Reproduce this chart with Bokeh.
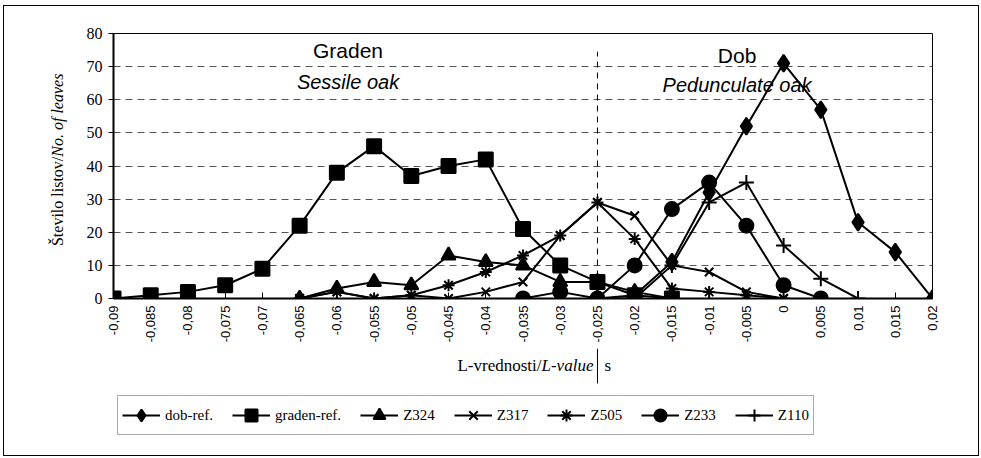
import math
from bokeh.plotting import figure
from bokeh.models import Range1d, FixedTicker, Label, Legend, LegendItem
from bokeh.layouts import column, row
from bokeh.embed import file_html
from bokeh.resources import INLINE

NaN = float("nan")

l_labels = ["-0,09", "-0,085", "-0,08", "-0,075", "-0,07", "-0,065", "-0,06",
            "-0,055", "-0,05", "-0,045", "-0,04", "-0,035", "-0,03", "-0,025",
            "-0,02", "-0,015", "-0,01", "-0,005", "0", "0,005", "0,01", "0,015", "0,02"]

dob_ref    = [NaN]*13 + [0, 1, 11, 32, 52, 71, 57, 23, 14, 0]
graden_ref = [0, 1, 2, 4, 9, 22, 38, 46, 37, 40, 42, 21, 10, 5, 1, 0] + [NaN]*7
z324       = [NaN]*5 + [0, 3, 5, 4, 13, 11, 10, 5, 5, 2, 0] + [NaN]*7
z317       = [NaN]*5 + [0, 2, 0, 1, 0, 2, 5, 19, 29, 25, 10, 8, 2, 0] + [NaN]*4
z505       = [NaN]*5 + [0, 2, 0, 1, 4, 8, 13, 19, 29, 18, 3, 2, 1, 0] + [NaN]*4
z233       = [NaN]*11 + [0, 2, 0, 10, 27, 35, 22, 4, 0] + [NaN]*3
z110       = [NaN]*13 + [0, 0, 10, 29, 35, 16, 6, 0] + [NaN]*2

series_names = ["dob-ref.", "graden-ref.", "Z324", "Z317", "Z505", "Z233", "Z110"]
series_values = [dob_ref, graden_ref, z324, z317, z505, z233, z110]
markers = ["diamond", "square", "triangle", "x", "asterisk", "circle", "cross"]
sizes = [17, 14, 14, 12, 12, 14, 15]

y_ticks = [0, 10, 20, 30, 40, 50, 60, 70, 80]

xs = list(range(len(l_labels)))

# ---- geometry (pixels) ----
W_TOTAL, H_TOTAL = 974, 449
W_LEFT = 75
MB_L, MB_R, MB_T, MB_B = 34, 46, 27, 50
FRAME_W = W_TOTAL - W_LEFT - MB_L - MB_R
H_TOP = 342
H_BOT = H_TOTAL - H_TOP
W_MAIN = W_TOTAL - W_LEFT

# ---- main chart ----
p = figure(width=W_MAIN, height=H_TOP, output_backend="svg", toolbar_location=None,
           x_range=Range1d(0, len(l_labels) - 1), y_range=Range1d(0, 80),
           min_border_left=MB_L, min_border_right=MB_R, min_border_top=MB_T,
           min_border_bottom=MB_B)
p.outline_line_color = "black"
p.outline_line_width = 1

p.xgrid.visible = False
p.ygrid.grid_line_color = "#555555"
p.ygrid.grid_line_dash = "7 5"
p.ygrid.grid_line_width = 1

p.yaxis.ticker = FixedTicker(ticks=y_ticks)
p.yaxis.minor_tick_line_color = None
p.yaxis.axis_line_width = 2
p.yaxis.major_tick_out = 5
p.yaxis.major_tick_in = 0
p.yaxis.major_label_text_font = "Liberation Serif"
p.yaxis.major_label_text_font_size = "16px"
p.yaxis.major_label_text_color = "black"
p.yaxis.major_label_standoff = 6

p.xaxis.ticker = FixedTicker(ticks=xs)
p.xaxis.major_label_overrides = {i: s for i, s in enumerate(l_labels)}
p.xaxis.major_label_orientation = math.pi / 2
p.xaxis.minor_tick_line_color = None
p.xaxis.axis_line_width = 2
p.xaxis.major_tick_in = 6
p.xaxis.major_tick_out = 0
p.xaxis.major_label_text_font = "Liberation Sans"
p.xaxis.major_label_text_font_size = "13px"
p.xaxis.major_label_text_color = "black"
p.xaxis.major_label_standoff = 7

div_i = l_labels.index("-0,025")
p.segment(x0=[div_i], y0=[0], x1=[div_i], y1=[74.5], line_color="black",
          line_width=1, line_dash="6 5")

for name, vals, mk, sz in zip(series_names, series_values, markers, sizes):
    p.line(xs, vals, line_color="black", line_width=2)
    p.scatter(xs, vals, marker=mk, size=sz, fill_color="black",
              line_color="black", line_width=2)

p.add_layout(Label(x=6.3, y=75, text="Graden", text_font="Liberation Sans",
                   text_font_size="21px", text_align="center", text_baseline="middle",
                   text_color="black"))
p.add_layout(Label(x=6.3, y=65.3, text="Sessile oak", text_font="Liberation Sans",
                   text_font_style="italic", text_font_size="20px",
                   text_align="center", text_baseline="middle", text_color="black"))
p.add_layout(Label(x=16.75, y=73.5, text="Dob", text_font="Liberation Sans",
                   text_font_size="21px", text_align="center", text_baseline="middle",
                   text_color="black"))
p.add_layout(Label(x=16.75, y=64.5, text="Pedunculate oak", text_font="Liberation Sans",
                   text_font_style="italic", text_font_size="20px",
                   text_align="center", text_baseline="middle", text_color="black"))

# ---- left strip with y axis title (mixed style) ----
pl = figure(width=W_LEFT, height=H_TOP, output_backend="svg", toolbar_location=None,
            x_range=Range1d(0, W_LEFT), y_range=Range1d(0, H_TOP),
            x_axis_type=None, y_axis_type=None, min_border=0)
pl.grid.visible = False
pl.outline_line_color = None
y_join = 183
pl.add_layout(Label(x=53, y=y_join, angle=math.pi / 2, text="Število listov/",
                    text_font="Liberation Serif", text_font_size="16px",
                    text_align="right", text_baseline="middle", text_color="black"))
pl.add_layout(Label(x=53, y=y_join, angle=math.pi / 2, text="No. of leaves",
                    text_font="Liberation Serif", text_font_style="italic",
                    text_font_size="16px", text_align="left", text_baseline="middle",
                    text_color="black"))

# ---- bottom strip with x axis title and legend ----
pb = figure(width=W_TOTAL, height=H_BOT, output_backend="svg", toolbar_location=None,
            x_range=Range1d(0, W_TOTAL), y_range=Range1d(0, H_BOT),
            x_axis_type=None, y_axis_type=None, min_border=0)
pb.grid.visible = False
pb.outline_line_color = None

x_div = W_LEFT + MB_L + div_i * FRAME_W / (len(l_labels) - 1)
pb.segment(x0=[x_div], y0=[H_BOT], x1=[x_div], y1=[H_BOT - 35], line_color="black", line_width=1)

lab_y = H_BOT - 17
x_join = 537
pb.add_layout(Label(x=x_join, y=lab_y, text="L-vrednosti/", text_font="Liberation Serif",
                    text_font_size="17px", text_align="right", text_baseline="middle",
                    text_color="black"))
pb.add_layout(Label(x=x_join, y=lab_y, text="L-value", text_font="Liberation Serif",
                    text_font_style="italic", text_font_size="17px", text_align="left",
                    text_baseline="middle", text_color="black"))
pb.add_layout(Label(x=x_join + 63, y=lab_y, text="s", text_font="Liberation Serif",
                    text_font_size="17px", text_align="left", text_baseline="middle",
                    text_color="black"))

items = []
for name, mk, sz in zip(series_names, markers, sizes):
    r1 = pb.line(x=[NaN], y=[NaN], line_color="black", line_width=2)
    r2 = pb.scatter(x=[NaN], y=[NaN], marker=mk, size=sz, fill_color="black",
                    line_color="black", line_width=2)
    items.append(LegendItem(label=name, renderers=[r1, r2]))

legend = Legend(items=items, orientation="horizontal", location=(113, 20),
                label_text_font="Liberation Serif", label_text_font_size="15px",
                label_text_color="black",
                glyph_width=38, glyph_height=30, spacing=19, padding=4,
                label_standoff=5, border_line_color="#555555",
                border_line_width=1, background_fill_alpha=1, margin=0)
pb.add_layout(legend, "center")

layout = column(row(pl, p), pb)
layout.styles = {"border": "1px solid black", "margin-left": "3px", "margin-top": "5px"}

open("out.html", "w").write(file_html(layout, INLINE))
